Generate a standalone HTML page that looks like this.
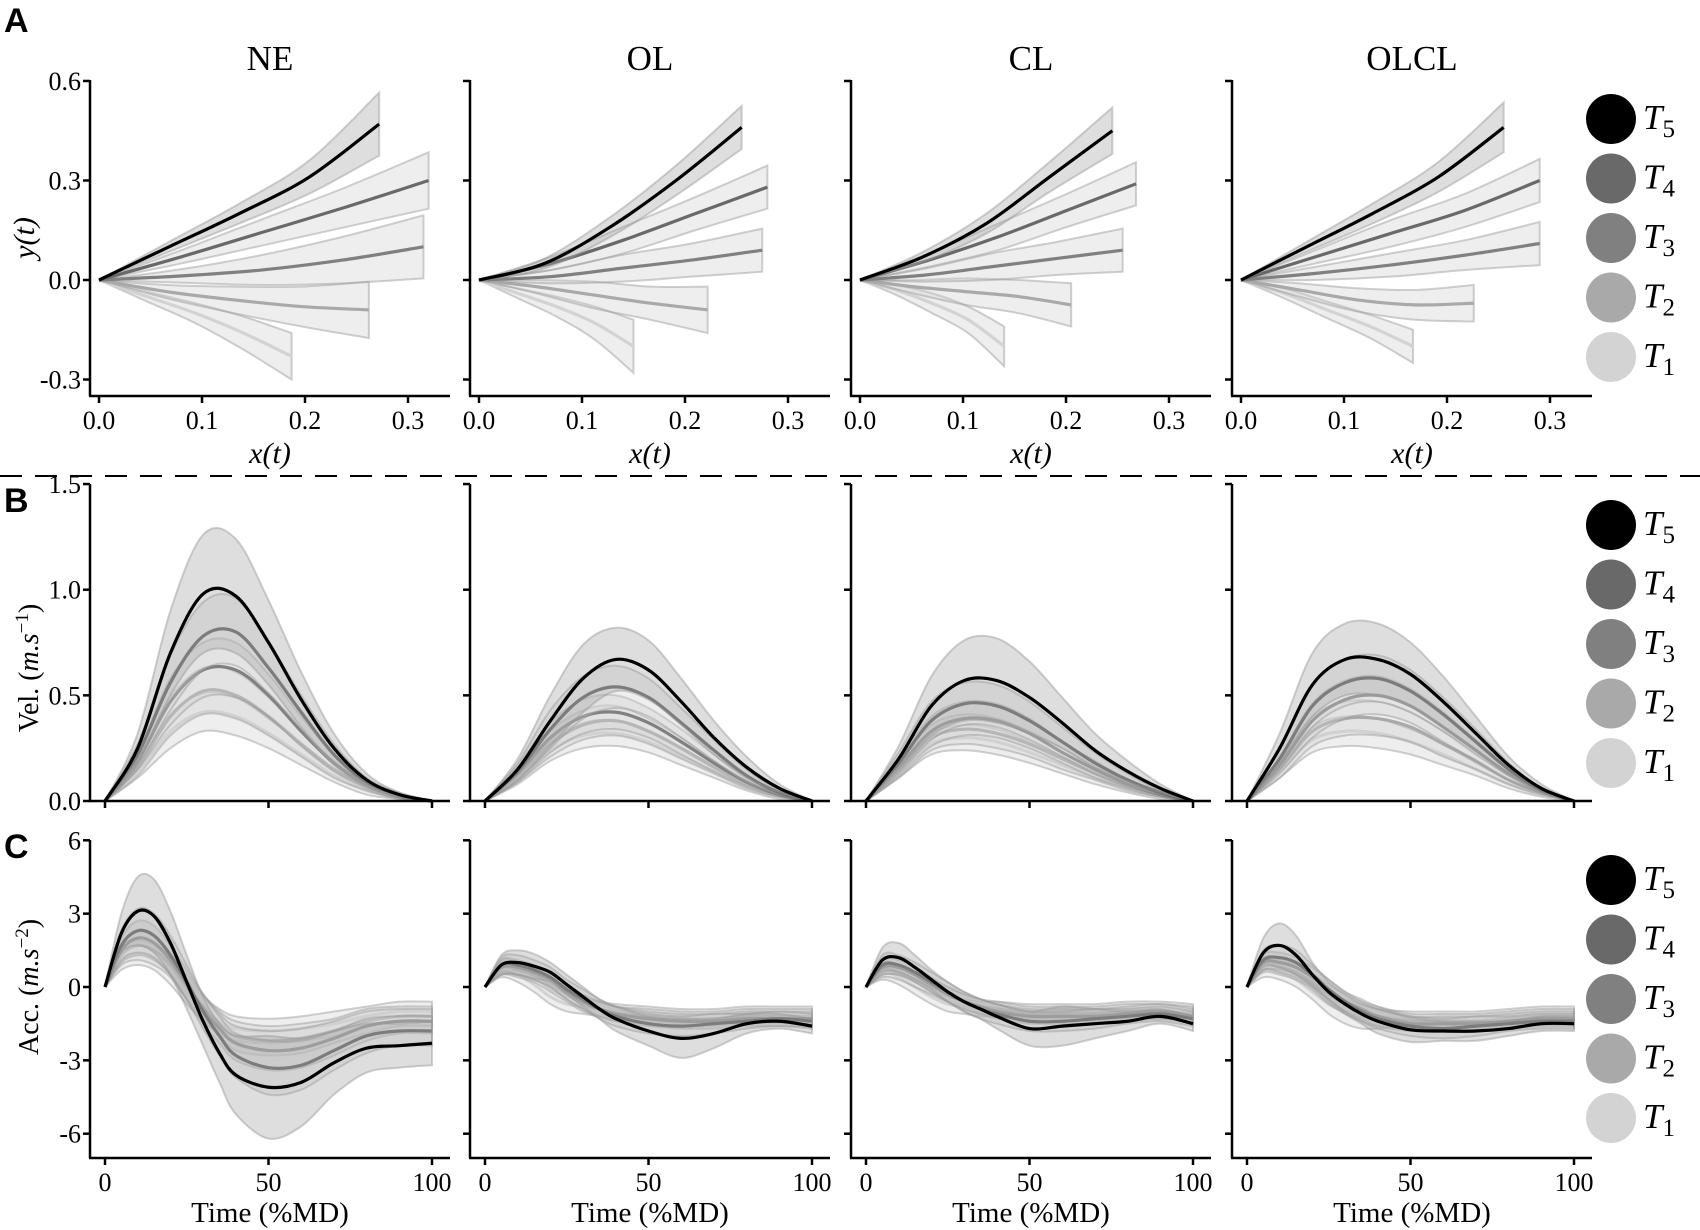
<!DOCTYPE html>
<html><head><meta charset="utf-8">
<style>
html,body{margin:0;padding:0;background:#fff;}
svg{display:block;}
text{font-family:"Liberation Serif","DejaVu Serif",serif;fill:#000;}
.lbl{font-family:"Liberation Sans",sans-serif;font-weight:bold;}
</style></head>
<body>
<svg id="fig" width="1700" height="1230" viewBox="0 0 1700 1230" xmlns="http://www.w3.org/2000/svg">
<line x1="0" y1="476" x2="1700" y2="476" stroke="#000" stroke-width="2" stroke-dasharray="22,13"/>
<text class="lbl" x="4" y="32" font-size="34">A</text>
<text class="lbl" x="4" y="512" font-size="34">B</text>
<text class="lbl" x="4" y="858" font-size="34">C</text>
<text transform="translate(34,238) rotate(-90)" text-anchor="middle" font-size="30" font-style="italic">y(t)</text>
<text transform="translate(38,668) rotate(-90)" text-anchor="middle" font-size="28">Vel. (<tspan font-style="italic">m.s</tspan><tspan dy="-10" font-size="19">−1</tspan><tspan dy="10">)</tspan></text>
<text transform="translate(38,987) rotate(-90)" text-anchor="middle" font-size="28">Acc. (<tspan font-style="italic">m.s</tspan><tspan dy="-10" font-size="19">−2</tspan><tspan dy="10">)</tspan></text>
</svg>
<script>
// ---------- DATA ----------
const conditions = ["NE","OL","CL","OLCL"];
const targets = ["T5","T4","T3","T2","T1"];
const targetColors = ["#000000","#696969","#808080","#a9a9a9","#d3d3d3"];
const xTicksA = [0.0,0.1,0.2,0.3];
const xTickLabelsA = ["0.0","0.1","0.2","0.3"];
const yTicksA = [0.6,0.3,0.0,-0.3];
const yTickLabelsA = ["0.6","0.3","0.0","-0.3"];
const yTicksB = [1.5,1.0,0.5,0.0];
const yTickLabelsB = ["1.5","1.0","0.5","0.0"];
const yTicksC = [6,3,0,-3,-6];
const yTickLabelsC = ["6","3","0","-3","-6"];
const timeTicks = [0,50,100];
const timeTickLabels = ["0","50","100"];

const trajFrac = [0,0.25,0.5,0.75,1];
const trajEndX_NE = [0.272,0.32,0.315,0.262,0.187];
const trajEndX_OL = [0.255,0.28,0.275,0.222,0.150];
const trajEndX_CL = [0.245,0.268,0.255,0.205,0.140];
const trajEndX_OLCL = [0.255,0.29,0.29,0.226,0.167];
const trajY_NE = [[0,0.10,0.20,0.31,0.47],[0,0.07,0.145,0.22,0.30],[0,0.012,0.03,0.06,0.10],[0,-0.035,-0.06,-0.08,-0.09],[0,-0.05,-0.1,-0.16,-0.23]];
const trajY_OL = [[0,0.05,0.16,0.30,0.46],[0,0.05,0.12,0.20,0.28],[0,0.01,0.035,0.06,0.09],[0,-0.02,-0.045,-0.07,-0.09],[0,-0.04,-0.08,-0.13,-0.20]];
const trajY_CL = [[0,0.07,0.17,0.31,0.45],[0,0.06,0.13,0.21,0.29],[0,0.015,0.04,0.065,0.09],[0,-0.02,-0.035,-0.05,-0.075],[0,-0.03,-0.07,-0.12,-0.20]];
const trajY_OLCL = [[0,0.10,0.20,0.31,0.46],[0,0.07,0.14,0.21,0.30],[0,0.02,0.045,0.075,0.11],[0,-0.03,-0.06,-0.075,-0.07],[0,-0.04,-0.09,-0.14,-0.20]];
const trajSd_NE = [[0,0.015,0.03,0.05,0.095],[0,0.02,0.04,0.06,0.085],[0,0.02,0.045,0.07,0.095],[0,0.02,0.04,0.06,0.085],[0,0.015,0.03,0.05,0.07]];
const trajSd_OL = [[0,0.015,0.03,0.045,0.065],[0,0.02,0.04,0.05,0.065],[0,0.02,0.04,0.05,0.065],[0,0.02,0.04,0.05,0.07],[0,0.015,0.03,0.05,0.08]];
const trajSd_CL = [[0,0.015,0.03,0.045,0.07],[0,0.02,0.04,0.05,0.065],[0,0.02,0.04,0.05,0.065],[0,0.02,0.04,0.05,0.065],[0,0.015,0.03,0.04,0.06]];
const trajSd_OLCL = [[0,0.015,0.03,0.045,0.075],[0,0.02,0.04,0.05,0.065],[0,0.02,0.035,0.045,0.065],[0,0.02,0.035,0.045,0.055],[0,0.015,0.025,0.035,0.05]];

const velTime = [0,10,20,30,40,50,60,70,80,90,100];
const vel_NE = [[0,.25,.70,.98,.97,.75,.48,.25,.10,.03,0],[0,.22,.56,.78,.80,.63,.42,.22,.09,.03,0],[0,.19,.47,.62,.62,.50,.33,.18,.08,.02,0],[0,.16,.40,.52,.50,.40,.27,.15,.07,.02,0],[0,.14,.33,.42,.40,.32,.22,.12,.05,.02,0]];
const vel_OL = [[0,.15,.38,.58,.67,.62,.47,.30,.16,.06,0],[0,.14,.34,.49,.54,.49,.37,.24,.12,.04,0],[0,.13,.30,.40,.42,.37,.28,.18,.09,.03,0],[0,.12,.27,.36,.38,.33,.25,.16,.08,.03,0],[0,.11,.24,.31,.32,.28,.21,.14,.07,.02,0]];
const vel_CL = [[0,.20,.45,.57,.57,.49,.37,.24,.14,.06,0],[0,.18,.38,.46,.45,.38,.28,.18,.10,.04,0],[0,.16,.33,.39,.38,.32,.23,.15,.08,.03,0],[0,.15,.30,.34,.32,.27,.20,.13,.07,.03,0],[0,.14,.27,.30,.28,.23,.17,.11,.06,.02,0]];
const vel_OLCL = [[0,.25,.55,.67,.67,.60,.47,.32,.17,.06,0],[0,.20,.45,.56,.58,.52,.41,.28,.15,.05,0],[0,.17,.38,.48,.50,.45,.35,.24,.13,.05,0],[0,.15,.33,.39,.39,.35,.27,.19,.10,.04,0],[0,.14,.29,.33,.32,.28,.22,.15,.08,.03,0]];
const velSd_NE = [[0,.07,.20,.28,.27,.20,.13,.07,.03,.01,0],[0,.05,.13,.16,.16,.12,.08,.05,.02,.01,0],[0,.04,.11,.13,.13,.10,.07,.04,.02,.01,0],[0,.04,.09,.11,.11,.09,.06,.04,.02,.01,0],[0,.03,.08,.09,.09,.07,.05,.03,.02,.01,0]];
const velSd_OL = [[0,.05,.12,.16,.15,.14,.11,.08,.05,.02,0],[0,.04,.09,.10,.10,.09,.07,.05,.03,.01,0],[0,.04,.07,.08,.08,.07,.06,.04,.02,.01,0],[0,.03,.06,.07,.07,.06,.05,.03,.02,.01,0],[0,.03,.05,.06,.06,.05,.04,.03,.02,.01,0]];
const velSd_CL = [[0,.06,.14,.19,.20,.17,.12,.08,.05,.02,0],[0,.05,.09,.10,.10,.09,.07,.05,.03,.01,0],[0,.04,.07,.08,.08,.07,.05,.04,.02,.01,0],[0,.04,.06,.07,.07,.06,.05,.03,.02,.01,0],[0,.03,.05,.06,.06,.05,.04,.03,.02,.01,0]];
const velSd_OLCL = [[0,.07,.15,.17,.17,.15,.12,.08,.04,.02,0],[0,.05,.10,.11,.11,.10,.08,.06,.03,.01,0],[0,.04,.08,.09,.09,.08,.07,.05,.03,.01,0],[0,.04,.07,.08,.08,.07,.06,.04,.02,.01,0],[0,.03,.06,.07,.07,.06,.05,.03,.02,.01,0]];

const accTime = [0,5,10,15,20,25,30,35,40,50,60,70,80,90,100];
const acc_NE = [[0,2.2,3.1,2.9,1.8,0.2,-1.4,-2.7,-3.6,-4.1,-3.9,-3.1,-2.5,-2.4,-2.3],[0,1.7,2.3,2.1,1.3,0.2,-1.0,-2.0,-2.8,-3.3,-3.2,-2.6,-2.0,-1.8,-1.8],[0,1.5,2.0,1.8,1.1,0.1,-0.9,-1.7,-2.3,-2.6,-2.5,-2.1,-1.6,-1.4,-1.4],[0,1.3,1.7,1.5,0.9,0.0,-0.8,-1.5,-2.0,-2.2,-2.1,-1.8,-1.4,-1.2,-1.2],[0,1.1,1.4,1.2,0.6,-0.2,-0.9,-1.4,-1.7,-1.8,-1.7,-1.5,-1.2,-1.0,-1.0]];
const acc_OL = [[0,0.9,1.0,0.85,0.6,0.1,-0.4,-0.9,-1.3,-1.8,-2.1,-1.9,-1.5,-1.4,-1.6],[0,0.9,0.9,0.7,0.4,-0.1,-0.5,-0.9,-1.2,-1.5,-1.6,-1.5,-1.4,-1.3,-1.4],[0,0.8,0.8,0.6,0.3,-0.2,-0.6,-0.9,-1.1,-1.3,-1.4,-1.4,-1.3,-1.3,-1.3],[0,0.8,0.7,0.5,0.1,-0.3,-0.7,-0.9,-1.1,-1.2,-1.3,-1.3,-1.2,-1.2,-1.2],[0,0.7,0.5,0.1,-0.4,-0.7,-0.8,-0.9,-1.0,-1.1,-1.2,-1.2,-1.1,-1.1,-1.1]];
const acc_CL = [[0,1.1,1.2,0.8,0.3,-0.2,-0.6,-0.9,-1.2,-1.7,-1.6,-1.5,-1.4,-1.2,-1.5],[0,0.9,0.9,0.6,0.2,-0.2,-0.6,-0.9,-1.1,-1.4,-1.4,-1.3,-1.2,-1.1,-1.3],[0,0.8,0.8,0.5,0.1,-0.3,-0.6,-0.8,-1.0,-1.2,-1.2,-1.2,-1.1,-1.0,-1.2],[0,0.7,0.6,0.3,0.0,-0.3,-0.6,-0.8,-0.9,-1.1,-1.1,-1.1,-1.0,-1.0,-1.1],[0,0.6,0.4,0.0,-0.4,-0.7,-0.8,-0.9,-0.9,-1.0,-1.0,-1.0,-0.9,-0.9,-1.0]];
const acc_OLCL = [[0,1.4,1.7,1.3,0.5,-0.2,-0.7,-1.1,-1.4,-1.75,-1.8,-1.8,-1.7,-1.5,-1.5],[0,1.1,1.2,1.0,0.5,-0.1,-0.6,-1.0,-1.3,-1.6,-1.7,-1.6,-1.5,-1.4,-1.4],[0,1.0,1.0,0.8,0.4,-0.1,-0.6,-0.9,-1.2,-1.5,-1.5,-1.5,-1.4,-1.3,-1.3],[0,0.9,0.8,0.6,0.2,-0.3,-0.7,-1.0,-1.2,-1.4,-1.4,-1.4,-1.3,-1.2,-1.2],[0,0.7,0.6,0.3,-0.2,-0.7,-1.0,-1.2,-1.3,-1.3,-1.3,-1.3,-1.2,-1.1,-1.1]];
const accSd_NE = [[0,0.8,1.4,1.5,1.3,1.1,1.0,1.2,1.6,2.1,1.8,1.3,1.0,0.9,0.9],[0,0.6,0.9,0.9,0.8,0.7,0.7,0.8,0.9,1.1,1.0,0.8,0.7,0.6,0.6],[0,0.5,0.7,0.7,0.6,0.6,0.6,0.6,0.7,0.8,0.8,0.7,0.6,0.5,0.5],[0,0.4,0.6,0.6,0.5,0.5,0.5,0.5,0.6,0.6,0.6,0.5,0.5,0.4,0.4],[0,0.4,0.5,0.5,0.5,0.5,0.5,0.5,0.5,0.5,0.5,0.5,0.4,0.4,0.4]];
const accSd_OL = [[0,0.4,0.5,0.5,0.4,0.4,0.4,0.4,0.5,0.6,0.8,0.6,0.4,0.3,0.3],[0,0.3,0.4,0.4,0.4,0.4,0.4,0.4,0.4,0.4,0.4,0.4,0.3,0.3,0.3],[0,0.3,0.3,0.3,0.3,0.3,0.3,0.3,0.3,0.3,0.3,0.3,0.3,0.3,0.3],[0,0.3,0.3,0.3,0.3,0.3,0.3,0.3,0.3,0.3,0.3,0.3,0.3,0.3,0.3],[0,0.3,0.3,0.3,0.3,0.3,0.3,0.3,0.3,0.3,0.3,0.3,0.3,0.3,0.3]];
const accSd_CL = [[0,0.5,0.6,0.5,0.4,0.4,0.4,0.4,0.5,0.7,0.8,0.6,0.4,0.3,0.3],[0,0.4,0.4,0.4,0.4,0.4,0.4,0.4,0.4,0.4,0.4,0.4,0.3,0.3,0.3],[0,0.3,0.3,0.3,0.3,0.3,0.3,0.3,0.3,0.3,0.3,0.3,0.3,0.3,0.3],[0,0.3,0.3,0.3,0.3,0.3,0.3,0.3,0.3,0.3,0.3,0.3,0.3,0.3,0.3],[0,0.3,0.3,0.3,0.3,0.3,0.3,0.3,0.3,0.3,0.3,0.3,0.3,0.3,0.3]];
const accSd_OLCL = [[0,0.6,0.9,0.8,0.5,0.4,0.4,0.4,0.5,0.5,0.4,0.4,0.3,0.3,0.3],[0,0.4,0.5,0.5,0.4,0.4,0.4,0.4,0.4,0.4,0.4,0.4,0.3,0.3,0.3],[0,0.3,0.4,0.4,0.4,0.4,0.4,0.4,0.4,0.3,0.3,0.3,0.3,0.3,0.3],[0,0.3,0.3,0.3,0.3,0.4,0.4,0.4,0.4,0.3,0.3,0.3,0.3,0.3,0.3],[0,0.3,0.3,0.3,0.3,0.4,0.5,0.5,0.4,0.3,0.3,0.3,0.3,0.3,0.3]];

// ---------- LAYOUT ----------
const NS = "http://www.w3.org/2000/svg";
const svg = document.getElementById("fig");
const axLeft = [90,470,851,1232];
const axW = 360;
const A = {top:80, bottom:396, y0:280, ppu:331.7, x0off:9, xppu:1030};
const B = {top:484, bottom:801, y0:801, ppu:211.3};
const C = {top:840, bottom:1158, y0:987, ppu:24.45};
const tOff = 15, tPpu = 3.27;

function el(tag, attrs, parent){
  const e = document.createElementNS(NS, tag);
  for (const k in attrs) e.setAttribute(k, attrs[k]);
  (parent||svg).appendChild(e);
  return e;
}
function smoothPath(pts){
  if (pts.length<2) return "";
  let d = "M"+pts[0][0].toFixed(2)+","+pts[0][1].toFixed(2);
  for (let i=0;i<pts.length-1;i++){
    const p0=pts[Math.max(0,i-1)], p1=pts[i], p2=pts[i+1], p3=pts[Math.min(pts.length-1,i+2)];
    const c1x=p1[0]+(p2[0]-p0[0])/6, c1y=p1[1]+(p2[1]-p0[1])/6;
    const c2x=p2[0]-(p3[0]-p1[0])/6, c2y=p2[1]-(p3[1]-p1[1])/6;
    d+=" C"+c1x.toFixed(2)+","+c1y.toFixed(2)+" "+c2x.toFixed(2)+","+c2y.toFixed(2)+" "+p2[0].toFixed(2)+","+p2[1].toFixed(2);
  }
  return d;
}
function bandPath(upper, lower){
  const u = smoothPath(upper);
  const l = smoothPath(lower.slice().reverse()).replace(/^M/,"L");
  return u+" "+l+" Z";
}
function drawSeries(g, xs, ys, sds, ti, cond, row){
  const mean = xs.map((x,i)=>[x, ys[i]]);
  const up = xs.map((x,i)=>[x, ys[i]-sds[i]]);
  const lo = xs.map((x,i)=>[x, ys[i]+sds[i]]);
  const band = el("path",{d:bandPath(up,lo), fill: ti===0?"rgba(160,160,160,0.35)":"rgba(205,205,205,0.35)", stroke:"rgba(150,150,150,0.45)", "stroke-width":2}, g);
  
  
  const ln = el("path",{d:smoothPath(mean), fill:"none", stroke:targetColors[ti], "stroke-width":3.2, "stroke-linejoin":"round"}, g);
  
  
}
function axes(g, left, top, bottom, yTickPx, yLabels, xTickPx, xLabels, showY, row, ci){
  const ya = el("line",{x1:left,y1:top,x2:left,y2:bottom,stroke:"#000","stroke-width":2.5},g);
  
  
  const xa = el("line",{x1:left-1,y1:bottom,x2:left+axW,y2:bottom,stroke:"#000","stroke-width":2.5},g);
  
  
  yTickPx.forEach((y,i)=>{
    const t = el("line",{x1:left-7,y1:y,x2:left,y2:y,stroke:"#000","stroke-width":2.5},g);
    
    
    if (showY){
      const tx = el("text",{x:left-9,y:y+9,"text-anchor":"end","font-size":26},g);
      tx.textContent = yLabels[i];
      
      
    }
  });
  xTickPx.forEach((x,i)=>{
    const t = el("line",{x1:x,y1:bottom,x2:x,y2:bottom+7,stroke:"#000","stroke-width":2.5},g);
    
    
    if (xLabels){
      const tx = el("text",{x:x,y:bottom+33,"text-anchor":"middle","font-size":26},g);
      tx.textContent = xLabels[i];
      
      
    }
  });
}

const trajEndX = [trajEndX_NE,trajEndX_OL,trajEndX_CL,trajEndX_OLCL];
const trajY = [trajY_NE,trajY_OL,trajY_CL,trajY_OLCL];
const trajSd = [trajSd_NE,trajSd_OL,trajSd_CL,trajSd_OLCL];
const vel = [vel_NE,vel_OL,vel_CL,vel_OLCL];
const velSd = [velSd_NE,velSd_OL,velSd_CL,velSd_OLCL];
const acc = [acc_NE,acc_OL,acc_CL,acc_OLCL];
const accSd = [accSd_NE,accSd_OL,accSd_CL,accSd_OLCL];

conditions.forEach((cond, ci)=>{
  const L = axLeft[ci];
  const gA = el("g",{});
  
  
  const ttl = el("text",{x:L+180,y:70,"text-anchor":"middle","font-size":35},gA);
  ttl.textContent = cond;
  
  
  const ax = v => L + A.x0off + v*A.xppu;
  const ay = v => A.y0 - v*A.ppu;
  for (let ti=4; ti>=0; ti--){
    const ex = trajEndX[ci][ti];
    const xs = trajFrac.map(f=>ax(f*ex));
    const ys = trajY[ci][ti].map(ay);
    const sds = trajSd[ci][ti].map(s=>s*A.ppu);
    drawSeries(gA, xs, ys, sds, ti, cond, 'traj');
  }
  axes(gA, L, A.top, A.bottom, yTicksA.map(ay), yTickLabelsA, xTicksA.map(ax), xTickLabelsA, ci===0, 'traj', ci);
  const xl = el("text",{x:L+180,y:463,"text-anchor":"middle","font-size":30,"font-style":"italic"},gA);
  xl.textContent = "x(t)";
  
  

  const gB = el("g",{});
  
  
  const tx = v => L + tOff + v*tPpu;
  const by = v => B.y0 - v*B.ppu;
  for (let ti=4; ti>=0; ti--){
    drawSeries(gB, velTime.map(tx), vel[ci][ti].map(by), velSd[ci][ti].map(s=>s*B.ppu), ti, cond, 'vel');
  }
  axes(gB, L, B.top, B.bottom, yTicksB.map(by), yTickLabelsB, timeTicks.map(tx), null, ci===0, 'vel', ci);

  const gC = el("g",{});
  
  
  const cy = v => C.y0 - v*C.ppu;
  for (let ti=4; ti>=0; ti--){
    drawSeries(gC, accTime.map(tx), acc[ci][ti].map(cy), accSd[ci][ti].map(s=>s*C.ppu), ti, cond, 'acc');
  }
  axes(gC, L, C.top, C.bottom, yTicksC.map(cy), yTickLabelsC, timeTicks.map(tx), timeTickLabels, ci===0, 'acc', ci);
  const tl = el("text",{x:L+180,y:1222,"text-anchor":"middle","font-size":29},gC);
  tl.textContent = "Time (%MD)";
  
  
});

const legendTops = [119, 525, 880];
legendTops.forEach((top, li)=>{
  const g = el("g",{});
  
  
  targets.forEach((t, ti)=>{
    const cyy = top + ti*59.5;
    const c = el("circle",{cx:1611, cy:cyy, r:25, fill:targetColors[ti]}, g);
    
    
    const tt = el("text",{x:1643, y:cyy+10, "font-size":35, "font-style":"italic"}, g);
    tt.textContent = "T";
    const sub = el("tspan",{dy:8, "font-size":25, "font-style":"normal"}, tt);
    sub.textContent = t.slice(1);
    
    
  });
});
</script>
</body></html>
